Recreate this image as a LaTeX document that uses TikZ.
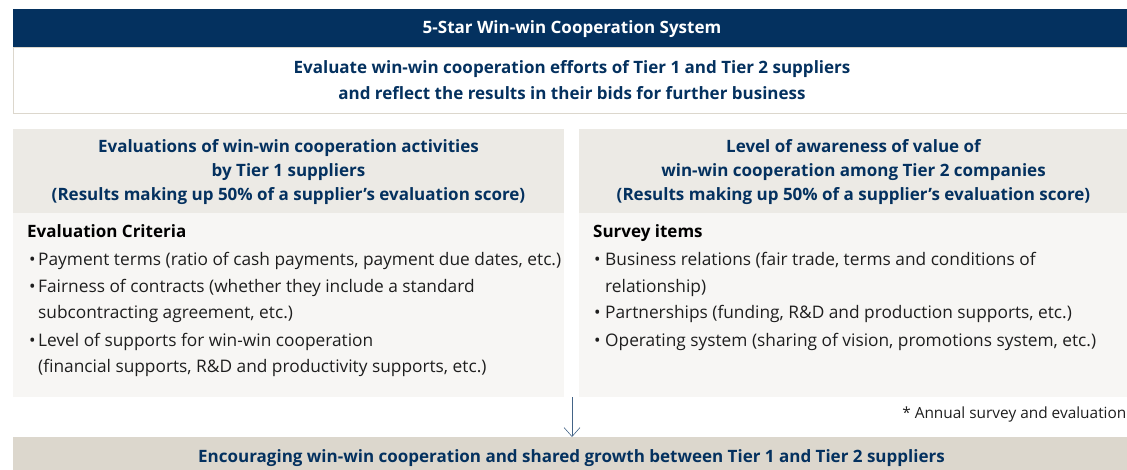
\documentclass[tikz,border=0pt]{standalone}
\usepackage{fontspec}
\setmainfont{Open Sans}
\usetikzlibrary{arrows.meta}
\definecolor{navy}{HTML}{04315F}
\definecolor{hdrgray}{HTML}{ECEAE5}
\definecolor{bodygray}{HTML}{F7F6F4}
\definecolor{botbar}{HTML}{DCD7CD}
\definecolor{boxline}{HTML}{DCD7CD}
\definecolor{txt}{HTML}{1E1E1E}
\newcommand{\bl}[1]{\makebox[#1][l]{•}}
\tikzset{
  hdr/.style={font=\fontsize{17}{20}\selectfont\bfseries, text=navy, anchor=base, inner sep=0pt},
  bul/.style={font=\fontsize{17.3}{20}\selectfont, text=txt, anchor=base west, inner sep=0pt},
  bhead/.style={font=\fontsize{17}{20}\selectfont\bfseries, text=black, anchor=base west, inner sep=0pt},
}
\begin{document}
\begin{tikzpicture}[x=1pt,y=-1pt]
\useasboundingbox (0,0) rectangle (1127,470);
% top bar
\fill[navy] (13,9) rectangle (1130,47);
\node[hdr, text=white] (title) at (572,34) {5-Star Win-win Cooperation System};
% white box
\draw[boxline, line width=0.9pt, fill=white] (13.4,47) rectangle (1132,113);
\node[hdr] (ev1) at (572,74) {Evaluate win-win cooperation efforts of Tier 1 and Tier 2 suppliers};
\node[hdr] (ev2) at (572,100) {and reflect the results in their bids for further business};
% left panel
\fill[hdrgray] (13,129) rectangle (564,213);
\fill[bodygray] (13,213) rectangle (564,397);
\node[hdr] (l1) at (288.5,153) {Evaluations of win-win cooperation activities};
\node[hdr] (l2) at (288.5,177) {by Tier 1 suppliers};
\node[hdr] (l3) at (288.5,201) {(Results making up 50\% of a supplier’s evaluation score)};
\node[bhead] (lh) at (27,238) {Evaluation Criteria};
\node[bul] (lb1) at (29,266) {\bl{9pt}Payment terms (ratio of cash payments, payment due dates, etc.)};
\node[bul] (lb2) at (29,293) {\bl{9pt}Fairness of contracts (whether they include a standard};
\node[bul] (lb2b) at (38,319) {subcontracting agreement, etc.)};
\node[bul] (lb3) at (29,346) {\bl{9pt}Level of supports for win-win cooperation};
\node[bul] (lb3b) at (38,372) {(financial supports, R\&D and productivity supports, etc.)};
% right panel
\fill[hdrgray] (579,129) rectangle (1130,213);
\fill[bodygray] (579,213) rectangle (1130,397);
\node[hdr] (r1) at (853.5,153) {Level of awareness of value of};
\node[hdr] (r2) at (853.5,177) {win-win cooperation among Tier 2 companies};
\node[hdr] (r3) at (853.5,201) {(Results making up 50\% of a supplier’s evaluation score)};
\node[bhead] (rh) at (593,238) {Survey items};
\node[bul] (rb1) at (594,266) {\bl{11pt}Business relations (fair trade, terms and conditions of};
\node[bul] (rb1b) at (605,293) {relationship)};
\node[bul] (rb2) at (594,319) {\bl{11pt}Partnerships (funding, R\&D and production supports, etc.)};
\node[bul] (rb3) at (594,346) {\bl{11pt}Operating system (sharing of vision, promotions system, etc.)};
% footnote
\node[font=\fontsize{15.4}{18}\selectfont, text=txt, anchor=base east, inner sep=0pt] (fn) at (1126.5,418) {* Annual survey and evaluation};
% bottom bar
\fill[botbar] (13,437) rectangle (1130,472);
\node[hdr] (bot) at (571.5,462) {Encouraging win-win cooperation and shared growth between Tier 1 and Tier 2 suppliers};
% arrow
\coordinate (a1) at (572,397);
\coordinate (a2) at (572,437);
\draw[navy!75, line width=0.6pt, -{Straight Barb[length=9pt,width=16pt]}] (a1) -- (a2);
\end{tikzpicture}
\end{document}
